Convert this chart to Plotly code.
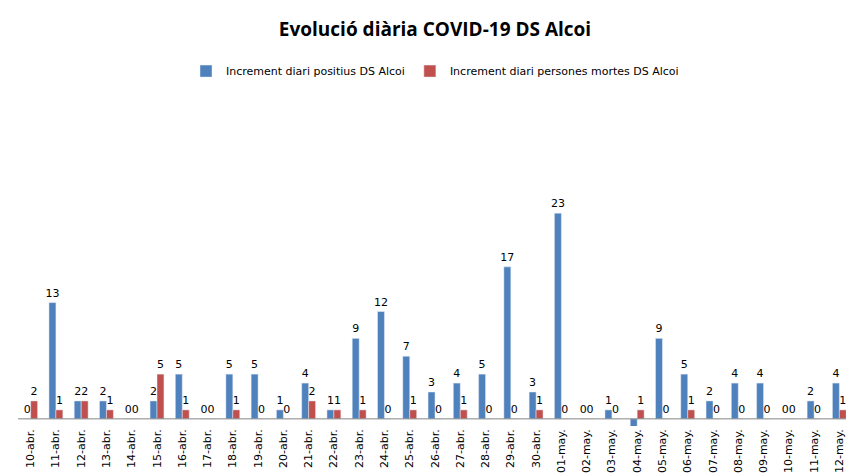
import plotly.graph_objects as go

dates = ["10-abr.", "11-abr.", "12-abr.", "13-abr.", "14-abr.", "15-abr.", "16-abr.", "17-abr.",
         "18-abr.", "19-abr.", "20-abr.", "21-abr.", "22-abr.", "23-abr.", "24-abr.", "25-abr.",
         "26-abr.", "27-abr.", "28-abr.", "29-abr.", "30-abr.", "01-may.", "02-may.", "03-may.",
         "04-may.", "05-may.", "06-may.", "07-may.", "08-may.", "09-may.", "10-may.", "11-may.", "12-may."]
positius = [0, 13, 2, 2, 0, 2, 5, 0, 5, 5, 1, 4, 1, 9, 12, 7, 3, 4, 5, 17, 3, 23, 0, 1, -1, 9, 5, 2, 4, 4, 0, 2, 4]
morts = [2, 1, 2, 1, 0, 5, 1, 0, 1, 0, 0, 2, 1, 1, 0, 1, 0, 1, 0, 0, 1, 0, 0, 0, 1, 0, 1, 0, 0, 0, 0, 0, 1]

fig = go.Figure()
fig.add_trace(go.Bar(x=dates, y=positius, name="Increment diari positius DS Alcoi",
                     marker_color="#4F81BD", text=positius, textposition="outside",
                     textangle=0, constraintext="none",
                     textfont=dict(color="black", size=11), cliponaxis=False))
fig.add_trace(go.Bar(x=dates, y=morts, name="Increment diari persones mortes DS Alcoi",
                     marker_color="#C0504D", text=morts, textposition="outside",
                     textangle=0, constraintext="none",
                     textfont=dict(color="black", size=11), cliponaxis=False))

fig.update_layout(
    width=854, height=475,
    title=dict(text="<b>Evolució diària COVID-19 DS Alcoi</b>", x=0.5, xanchor="center",
               y=0.955, yanchor="middle",
               font=dict(family="Open Sans", size=19, color="black")),
    font=dict(family="DejaVu Sans", size=11, color="black"),
    plot_bgcolor="white", paper_bgcolor="white",
    barmode="group", bargap=0.45, bargroupgap=0.0,
    margin=dict(l=10, r=10, t=80, b=55),
    legend=dict(orientation="h", x=0.5, xanchor="center", y=1.05, yanchor="middle",
                font=dict(size=11)),
    showlegend=True,
)
fig.update_xaxes(tickangle=-90, showline=False, ticks="", tickfont=dict(size=11))
fig.update_yaxes(range=[-0.8, 37], visible=False, zeroline=False)
fig.add_hline(y=0, line=dict(color="#868686", width=1))
fig.write_html("out.html")
